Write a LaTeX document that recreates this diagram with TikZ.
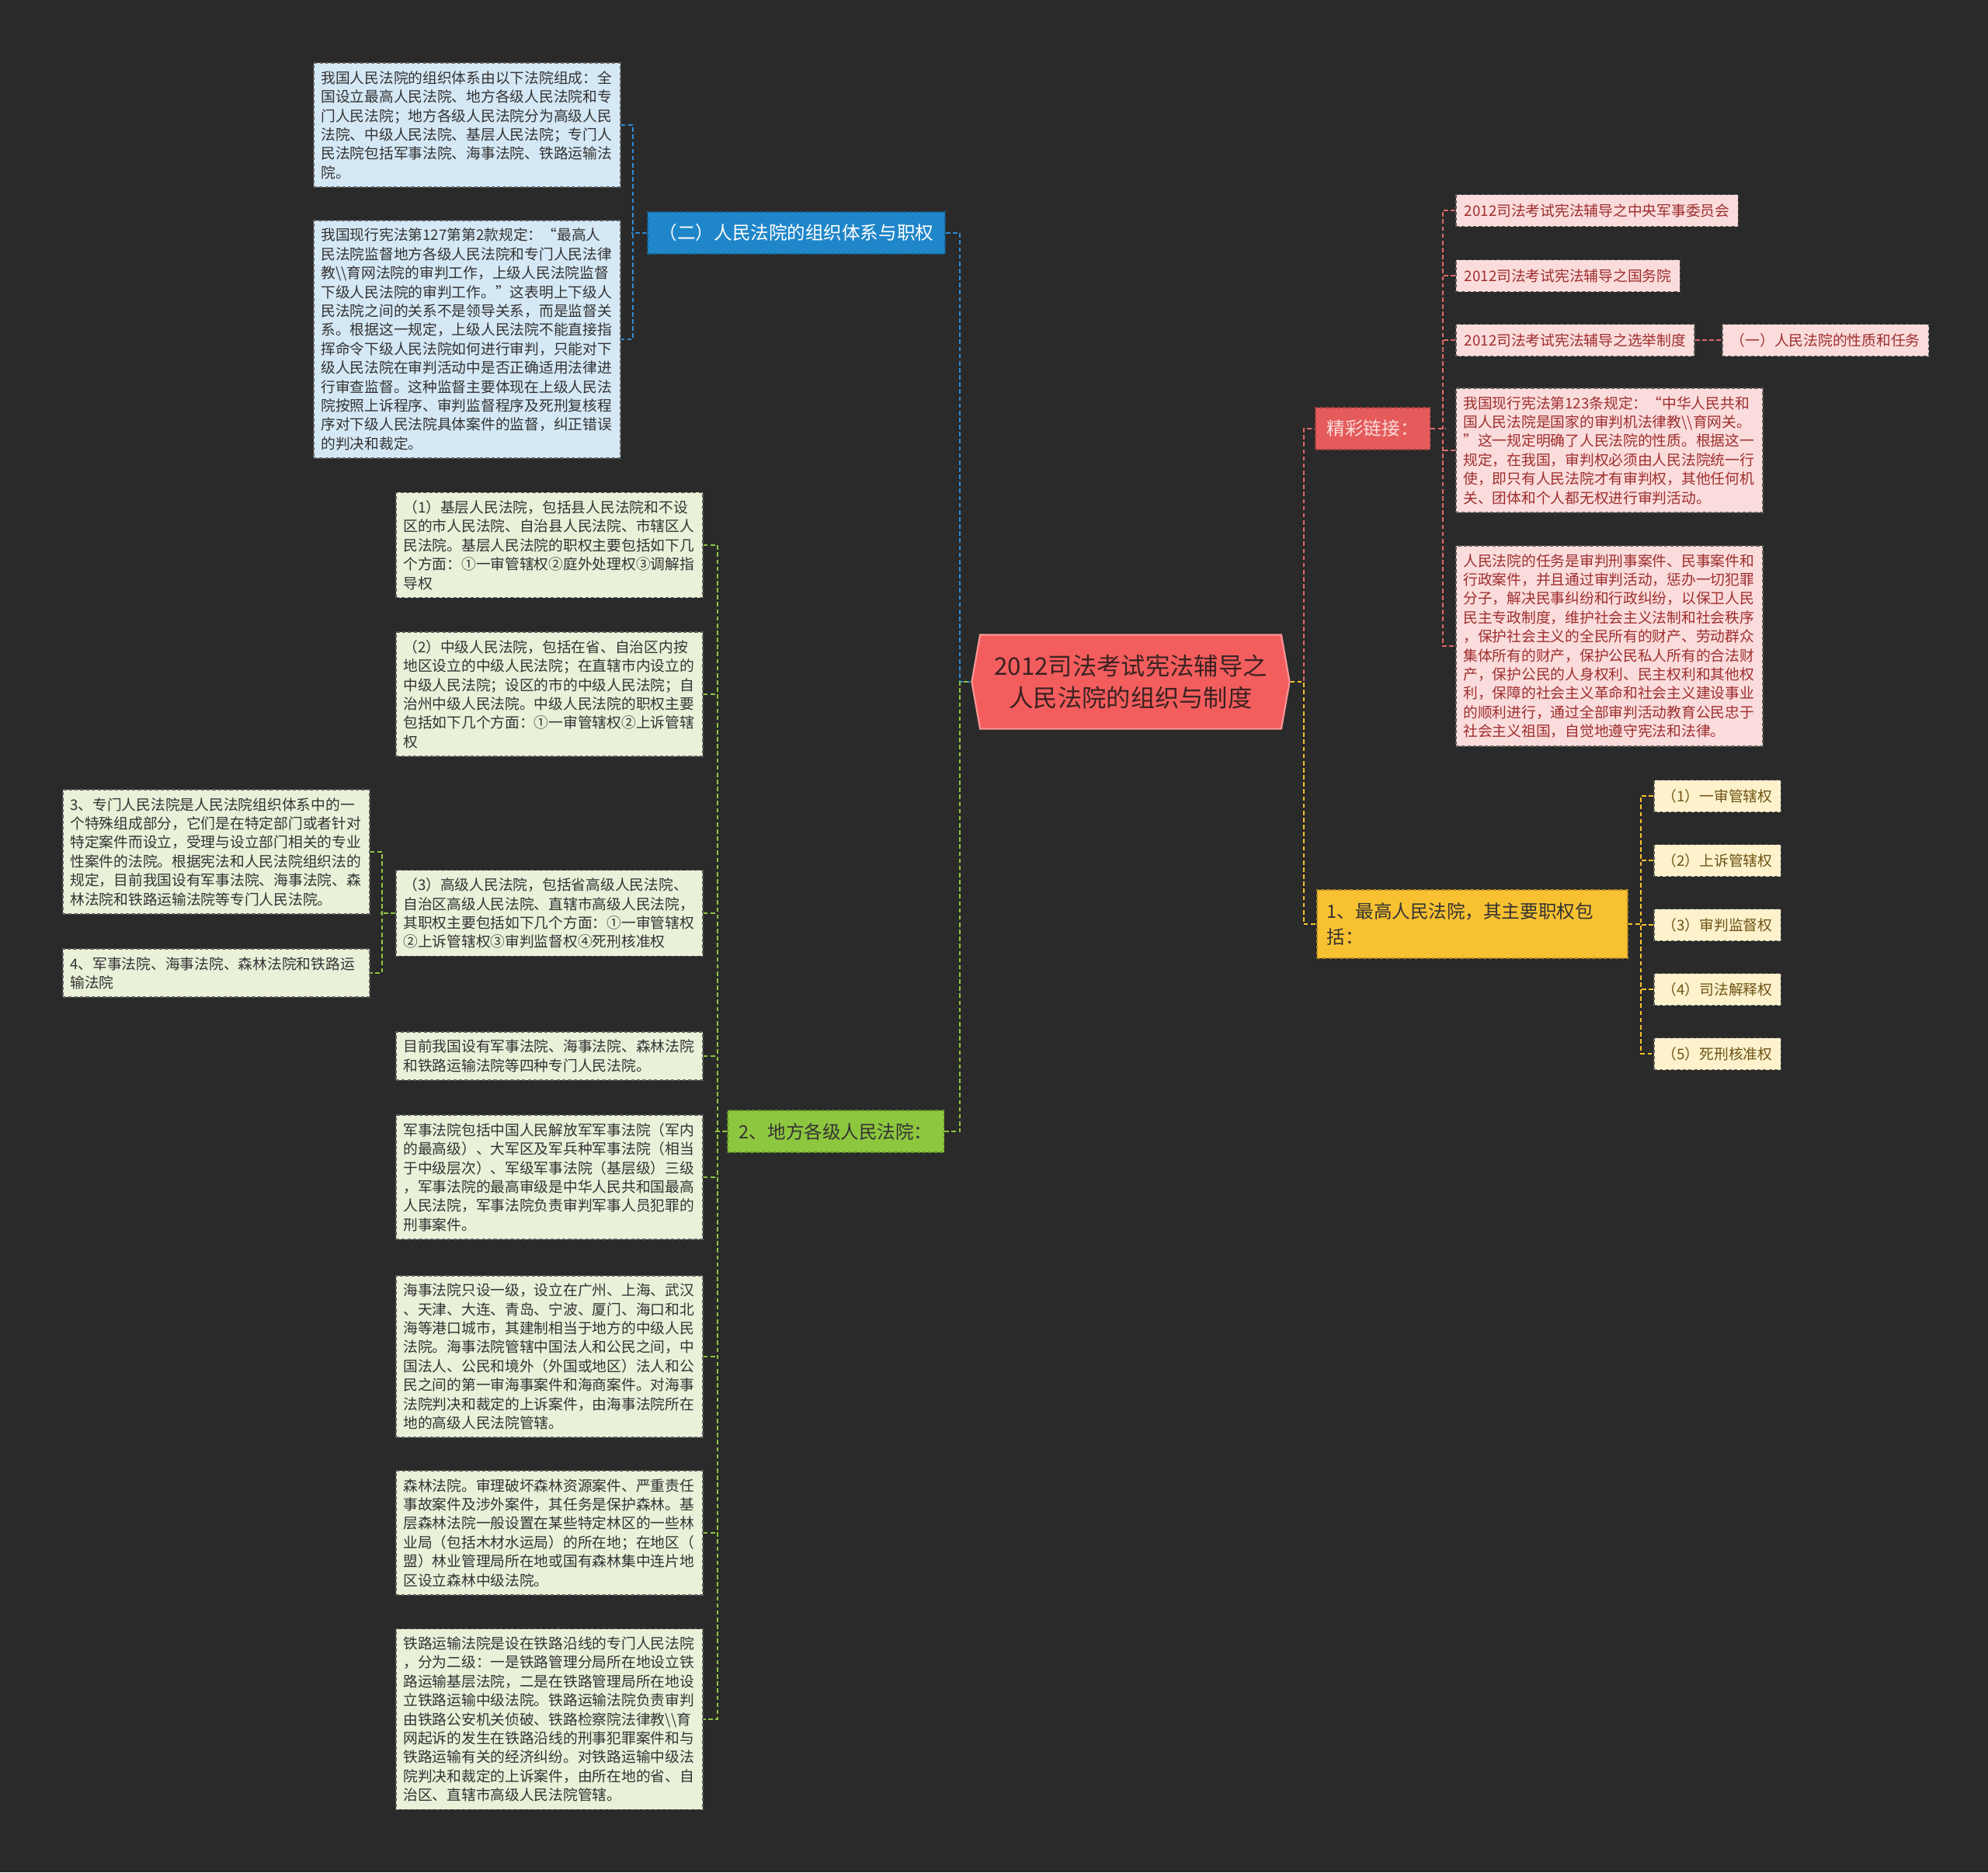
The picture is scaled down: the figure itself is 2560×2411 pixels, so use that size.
\documentclass[tikz,border=0pt]{standalone}
\usepackage{fontspec}
\setmainfont{Noto Sans CJK SC}
\usepackage{xcolor}
\usepackage{tikz}
\usetikzlibrary{positioning,shapes.symbols}
\definecolor{canvas}{HTML}{2A2A2A}
\definecolor{rootred}{HTML}{F45D5D}
\definecolor{rootink}{HTML}{3A2222}
\definecolor{boxedge}{HTML}{5E5E5E}
\definecolor{ink}{HTML}{333333}
\definecolor{bluehead}{HTML}{1F86CA}
\definecolor{bluebox}{HTML}{D5E8F5}
\definecolor{bluelink}{HTML}{2E8BD6}
\definecolor{greenhead}{HTML}{8DC63F}
\definecolor{greenbox}{HTML}{E9F1D9}
\definecolor{greenlink}{HTML}{8DC63F}
\definecolor{pinkhead}{HTML}{E55B5B}
\definecolor{pinkbox}{HTML}{FBDCDC}
\definecolor{pinkink}{HTML}{9E2E2E}
\definecolor{pinklink}{HTML}{E06868}
\definecolor{goldhead}{HTML}{F8C131}
\definecolor{goldbox}{HTML}{FDF2CC}
\definecolor{goldink}{HTML}{6E5416}
\definecolor{goldlink}{HTML}{F5C230}
\newcommand\notefont{\fontsize{5.33pt}{6.94pt}\selectfont}
\newcommand\headfont{\fontsize{6.7pt}{9.6pt}\selectfont}
\newcommand\rootfont{\fontsize{8.9pt}{11.4pt}\selectfont}

\begin{document}
\begin{tikzpicture}[x=0.01cm,y=-0.01cm,
  note/.style={rectangle,draw=boxedge,dash pattern=on 1.2pt off 0.9pt,line width=0.45pt,anchor=west,text width=3.76cm,align=left,inner xsep=0.095cm,inner ysep=0.1cm,font=\notefont,text=ink},
  bluenote/.style={note,fill=bluebox},
  greennote/.style={note,fill=greenbox},
  pinknote/.style={note,fill=pinkbox,text=pinkink},
  chip/.style={rectangle,draw=boxedge,dash pattern=on 1.2pt off 0.9pt,line width=0.45pt,anchor=west,inner xsep=0.11cm,inner ysep=0pt,minimum height=0.41cm,font=\notefont},
  pinkchip/.style={chip,fill=pinkbox,text=pinkink},
  goldchip/.style={chip,fill=goldbox,text=goldink,minimum width=1.62cm},
  branch/.style={rectangle,dash pattern=on 1.2pt off 0.9pt,line width=0.45pt,anchor=west,inner xsep=0.15cm,inner ysep=0pt,minimum height=0.54cm,font=\headfont},
  root/.style={signal,signal to=west and east,signal pointer angle=160,fill=rootred,draw=rootred!65!white,line width=0.6pt,minimum width=4.09cm,minimum height=1.21cm,align=center,font=\rootfont,text=rootink},
  link/.style={dash pattern=on 1.6pt off 1pt,line width=0.6pt}]
\useasboundingbox (0,0) rectangle (2560,2411);
\fill[canvas] (0,0) rectangle (2560,2411);

\node[root] (root) at (1456,878) {2012司法考试宪法辅导之\\人民法院的组织与制度};

\node[branch,fill=bluehead,draw=bluehead!70!black,text=white] (org) at (833,300) {（二）人民法院的组织体系与职权};
\node[bluenote] (b1) at (403,161) {我国人民法院的组织体系由以下法院组成：全\\国设立最高人民法院、地方各级人民法院和专\\门人民法院；地方各级人民法院分为高级人民\\法院、中级人民法院、基层人民法院；专门人\\民法院包括军事法院、海事法院、铁路运输法\\院。};
\node[bluenote] (b2) at (403,437) {我国现行宪法第127第第2款规定：“最高人\\民法院监督地方各级人民法院和专门人民法律\\教\textbackslash\textbackslash 育网法院的审判工作，上级人民法院监督\\下级人民法院的审判工作。”这表明上下级人\\民法院之间的关系不是领导关系，而是监督关\\系。根据这一规定，上级人民法院不能直接指\\挥命令下级人民法院如何进行审判，只能对下\\级人民法院在审判活动中是否正确适用法律进\\行审查监督。这种监督主要体现在上级人民法\\院按照上诉程序、审判监督程序及死刑复核程\\序对下级人民法院具体案件的监督，纠正错误\\的判决和裁定。};

\node[branch,fill=greenhead,draw=greenhead!70!black,text=ink] (local) at (936,1457) {2、地方各级人民法院：};
\node[greennote] (g1) at (509,702) {（1）基层人民法院，包括县人民法院和不设\\区的市人民法院、自治县人民法院、市辖区人\\民法院。基层人民法院的职权主要包括如下几\\个方面：①一审管辖权②庭外处理权③调解指\\导权};
\node[greennote] (g2) at (509,894) {（2）中级人民法院，包括在省、自治区内按\\地区设立的中级人民法院；在直辖市内设立的\\中级人民法院；设区的市的中级人民法院；自\\治州中级人民法院。中级人民法院的职权主要\\包括如下几个方面：①一审管辖权②上诉管辖\\权};
\node[greennote] (g3) at (509,1176) {（3）高级人民法院，包括省高级人民法院、\\自治区高级人民法院、直辖市高级人民法院，\\其职权主要包括如下几个方面：①一审管辖权\\②上诉管辖权③审判监督权④死刑核准权};
\node[greennote] (g4) at (509,1360) {目前我国设有军事法院、海事法院、森林法院\\和铁路运输法院等四种专门人民法院。};
\node[greennote] (g5) at (509,1516) {军事法院包括中国人民解放军军事法院（军内\\的最高级）、大军区及军兵种军事法院（相当\\于中级层次）、军级军事法院（基层级）三级\\，军事法院的最高审级是中华人民共和国最高\\人民法院，军事法院负责审判军事人员犯罪的\\刑事案件。};
\node[greennote] (g6) at (509,1747) {海事法院只设一级，设立在广州、上海、武汉\\、天津、大连、青岛、宁波、厦门、海口和北\\海等港口城市，其建制相当于地方的中级人民\\法院。海事法院管辖中国法人和公民之间，中\\国法人、公民和境外（外国或地区）法人和公\\民之间的第一审海事案件和海商案件。对海事\\法院判决和裁定的上诉案件，由海事法院所在\\地的高级人民法院管辖。};
\node[greennote] (g7) at (509,1974) {森林法院。审理破坏森林资源案件、严重责任\\事故案件及涉外案件，其任务是保护森林。基\\层森林法院一般设置在某些特定林区的一些林\\业局（包括木材水运局）的所在地；在地区（\\盟）林业管理局所在地或国有森林集中连片地\\区设立森林中级法院。};
\node[greennote] (g8) at (509,2214) {铁路运输法院是设在铁路沿线的专门人民法院\\，分为二级：一是铁路管理分局所在地设立铁\\路运输基层法院，二是在铁路管理局所在地设\\立铁路运输中级法院。铁路运输法院负责审判\\由铁路公安机关侦破、铁路检察院法律教\textbackslash\textbackslash 育\\网起诉的发生在铁路沿线的刑事犯罪案件和与\\铁路运输有关的经济纠纷。对铁路运输中级法\\院判决和裁定的上诉案件，由所在地的省、自\\治区、直辖市高级人民法院管辖。};
\node[greennote] (s1) at (80,1097) {3、专门人民法院是人民法院组织体系中的一\\个特殊组成部分，它们是在特定部门或者针对\\特定案件而设立，受理与设立部门相关的专业\\性案件的法院。根据宪法和人民法院组织法的\\规定，目前我国设有军事法院、海事法院、森\\林法院和铁路运输法院等专门人民法院。};
\node[greennote] (s2) at (80,1253) {4、军事法院、海事法院、森林法院和铁路运\\输法院};

\node[branch,fill=pinkhead,draw=pinkhead!70!black,text=pinkbox] (more) at (1693,552) {精彩链接：};
\node[pinkchip] (p1) at (1874,271) {2012司法考试宪法辅导之中央军事委员会};
\node[pinkchip] (p2) at (1874,355) {2012司法考试宪法辅导之国务院};
\node[pinkchip] (p3) at (1874,438) {2012司法考试宪法辅导之选举制度};
\node[pinkchip] (p3c) at (2217,438) {（一）人民法院的性质和任务};
\node[pinknote] (p4) at (1874,580) {我国现行宪法第123条规定：“中华人民共和\\国人民法院是国家的审判机法律教\textbackslash\textbackslash 育网关。\\”这一规定明确了人民法院的性质。根据这一\\规定，在我国，审判权必须由人民法院统一行\\使，即只有人民法院才有审判权，其他任何机\\关、团体和个人都无权进行审判活动。};
\node[pinknote] (p5) at (1874,832) {人民法院的任务是审判刑事案件、民事案件和\\行政案件，并且通过审判活动，惩办一切犯罪\\分子，解决民事纠纷和行政纠纷，以保卫人民\\民主专政制度，维护社会主义法制和社会秩序\\，保护社会主义的全民所有的财产、劳动群众\\集体所有的财产，保护公民私人所有的合法财\\产，保护公民的人身权利、民主权利和其他权\\利，保障的社会主义革命和社会主义建设事业\\的顺利进行，通过全部审判活动教育公民忠于\\社会主义祖国，自觉地遵守宪法和法律。};

\node[branch,fill=goldhead,draw=goldhead!70!black,text=ink,text width=3.74cm,align=left,inner xsep=0.13cm,minimum height=0.88cm] (top) at (1695,1190) {1、最高人民法院，其主要职权包\\括：};
\node[goldchip] (y1) at (2129,1025) {（1）一审管辖权};
\node[goldchip] (y2) at (2129,1108) {（2）上诉管辖权};
\node[goldchip] (y3) at (2129,1191) {（3）审判监督权};
\node[goldchip] (y4) at (2129,1274) {（4）司法解释权};
\node[goldchip] (y5) at (2129,1357) {（5）死刑核准权};

\draw[link,bluelink] (org.east) -- ++(18,0) |- (root.west);
\draw[link,bluelink] (org.west) -- ++(-20,0);
\draw[link,bluelink] (b1.east) -- ++(15,0) |- (b2.east);
\draw[link,greenlink] (local.east) -- ++(20,0) |- (root.west);
\draw[link,greenlink] (local.west) -- ++(-15,0);
\draw[link,greenlink] (g1.east) -- ++(18,0) |- (g8.east);
\foreach \n in {2,...,7} \draw[link,greenlink] (g\n.east) -- ++(18,0);
\draw[link,greenlink] (s1.east) -- ++(15,0) |- (s2.east);
\draw[link,greenlink] (g3.west) -- ++(-19,0);
\draw[link,pinklink] (root.east) -- ++(17,0) |- (more.west);
\draw[link,pinklink] (more.east) -- ++(20,0);
\draw[link,pinklink] (p1.west) -- ++(-16,0) |- (p5.west);
\foreach \n in {2,3,4} \draw[link,pinklink] (p\n.west) -- ++(-16,0);
\draw[link,pinklink] (p3.east) -- (p3c.west);
\draw[link,goldlink] (root.east) -- ++(17,0) |- (top.west);
\draw[link,goldlink] (top.east) -- ++(18,0);
\draw[link,goldlink] (y1.west) -- ++(-16,0) |- (y5.west);
\foreach \n in {2,3,4} \draw[link,goldlink] (y\n.west) -- ++(-16,0);
\end{tikzpicture}
\end{document}
